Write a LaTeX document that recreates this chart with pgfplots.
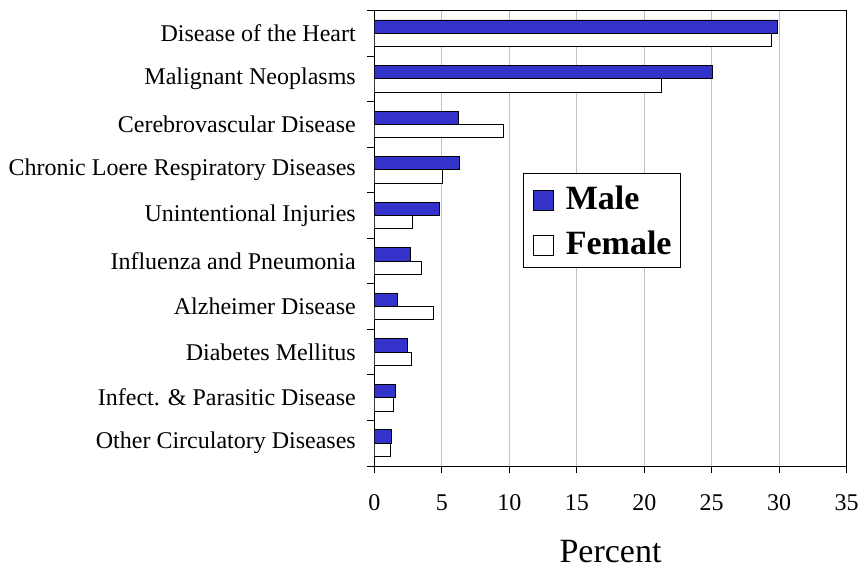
\documentclass[border=0pt]{standalone}
\usepackage{fontspec}
\setmainfont{Liberation Serif}
\usepackage{pgfplots}
\pgfplotsset{compat=1.18}
\definecolor{maleblue}{RGB}{51,51,204}
\definecolor{gridgray}{RGB}{192,192,192}
\begin{document}
\begin{tikzpicture}[x=1bp,y=1bp]
\useasboundingbox (0,0) rectangle (860,568);
\begin{axis}[
  at={(374.3bp,102bp)}, anchor=south west,
  scale only axis, width=472.4bp, height=455.5bp,
  xmin=0, xmax=35, ymin=-0.5, ymax=9.5,
  axis line style={black, line width=0.9bp},
  xtick={0,5,...,35},
  ytick={-0.5,0.5,...,9.5},
  yticklabels={},
  xtick pos=left, ytick pos=left,
  extra y ticks={0,1,...,9},
  extra y tick labels={Other Circulatory Diseases, Infect. \& Parasitic Disease, Diabetes Mellitus, Alzheimer Disease, Influenza and Pneumonia, Unintentional Injuries, Chronic Loere Respiratory Diseases, Cerebrovascular Disease, Malignant Neoplasms, Disease of the Heart},
  extra y tick style={major tick length=0pt, yticklabel style={anchor=east, inner sep=0pt, xshift=-18.3bp}},
  tick align=outside,
  major tick length=7bp,
  tick style={black, line width=0.9bp},
  xmajorgrids,
  grid style={gridgray, line width=0.8bp},
  /pgf/number format/assume math mode=true,
  tick label style={font=\fontsize{24bp}{28bp}\selectfont},
  xticklabel style={anchor=base, inner sep=0pt, yshift=-37.7bp},
  xlabel={Percent},
  xlabel style={at={(rel axis cs:0.5,0)}, anchor=base, inner sep=0pt, text depth=0pt, yshift=-97bp, font=\fontsize{34bp}{40bp}\selectfont},
  legend entries={Male, Female},
  legend cell align=left,
  legend image code/.code={\draw[#1] (0bp,-14bp) rectangle (20.5bp,6.5bp);},
  legend style={at={(rel axis cs:0.3154,0.644)}, anchor=north west, draw=black, line width=0.9bp,
    font=\bfseries\fontsize{34bp}{40bp}\selectfont, inner xsep=9bp, inner ysep=11bp,
    nodes={inner sep=0pt, text height=25bp, text depth=0bp},
    column sep=11.7bp, row sep=18bp},
]
\addplot[xbar, bar width=13.3bp, bar shift=6.65bp, fill=maleblue, draw=black, line width=0.9bp] coordinates {
 (29.9,9) (25.05,8) (6.2,7) (6.3,6) (4.8,5) (2.7,4) (1.75,3) (2.45,2) (1.55,1) (1.3,0)};
\addplot[xbar, bar width=13.3bp, bar shift=-6.65bp, fill=white, draw=black, line width=0.9bp] coordinates {
 (29.45,9) (21.3,8) (9.6,7) (5.05,6) (2.8,5) (3.5,4) (4.35,3) (2.75,2) (1.45,1) (1.2,0)};
\end{axis}
\end{tikzpicture}
\end{document}
